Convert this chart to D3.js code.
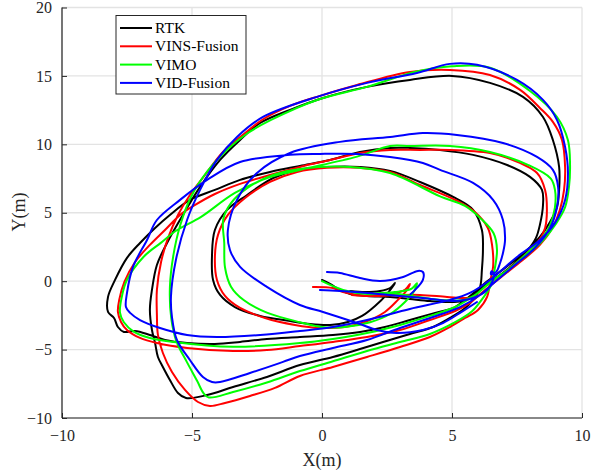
<!DOCTYPE html>
<html><head><meta charset="utf-8">
<script src="https://cdn.jsdelivr.net/npm/d3@7"></script>
<style>body{margin:0;background:#fff}svg{display:block}text{font-family:"Liberation Serif",serif}</style>
</head><body><svg id="c" width="592" height="475"></svg>
<script>
const seriesNames = ["RTK","VINS-Fusion","VIMO","VID-Fusion"];
const seriesColors = ["#000000","#ff0000","#00ff00","#0000ff"];
const xTicks = [-10,-5,0,5,10];
const yTicks = [-10,-5,0,5,10,15,20];

const rtk = [[0.0,0.09],[0.31,-0.2],[0.69,-0.64],[1.08,-0.94],[1.73,-1.08],[2.62,-1.15],[3.38,-1.3],[4.15,-1.45],[4.81,-1.52],[5.38,-1.45],[5.77,-1.08],[6.27,-0.28],[6.85,0.45],[7.42,1.33],[7.92,2.28],[8.23,3.16],[8.38,4.11],[8.5,5.57],[8.46,6.67],[8.0,7.62],[7.12,8.49],[5.81,9.23],[4.54,9.59],[3.38,9.74],[2.62,9.74],[1.46,9.44],[0.31,8.86],[-0.85,8.42],[-2.0,7.98],[-3.15,7.4],[-4.12,6.67],[-5.08,5.94],[-5.85,4.84],[-6.42,3.89],[-7.0,2.79],[-7.5,1.7],[-7.96,0.09],[-8.23,-1.15],[-8.23,-2.25],[-8.0,-2.69],[-7.85,-3.35],[-7.62,-3.71],[-7.19,-3.64],[-6.62,-3.93],[-6.04,-4.3],[-5.19,-4.52],[-4.12,-4.59],[-3.15,-4.44],[-2.12,-4.22],[-0.85,-4.08],[0.42,-3.93],[1.46,-3.71],[2.42,-3.35],[3.38,-2.84],[4.35,-2.32],[5.12,-1.89],[5.69,-1.08],[6.38,0.02],[7.04,0.97],[7.81,2.14],[8.38,3.23],[8.77,4.33],[9.04,5.42],[9.12,6.67],[9.12,8.35],[8.88,10.32],[8.5,12.0],[7.73,13.47],[6.46,14.49],[5.0,15.0],[3.38,14.71],[1.73,14.2],[0.04,13.39],[-1.23,12.52],[-2.38,11.56],[-3.15,10.32],[-3.92,8.86],[-4.69,6.89],[-5.35,4.84],[-5.96,2.79],[-6.35,1.18],[-6.54,-0.64],[-6.62,-2.1],[-6.54,-3.57],[-6.42,-4.52],[-6.31,-5.54],[-6.12,-6.27],[-5.85,-7.22],[-5.54,-8.17],[-5.23,-8.54],[-4.42,-8.32],[-3.42,-7.73],[-2.12,-7.0],[-0.85,-6.13],[0.42,-5.54],[1.46,-4.96],[2.35,-4.44],[3.38,-3.86],[4.27,-3.35],[4.92,-2.69],[5.42,-2.1],[5.81,-1.37],[6.08,-0.42],[6.15,0.82],[6.19,2.28],[6.15,3.74],[5.81,5.21],[5.12,6.08],[3.77,7.25],[2.62,8.06],[1.46,8.35],[0.19,8.35],[-0.96,8.13],[-1.88,7.54],[-2.88,6.3],[-3.65,5.21],[-4.12,3.74],[-4.23,1.92],[-4.19,0.09],[-3.92,-1.01],[-3.35,-1.89],[-2.38,-2.54],[-1.23,-2.91],[-0.46,-3.13],[0.31,-3.2],[1.0,-2.98],[1.54,-2.54],[2.04,-1.81],[2.5,-0.94],[2.81,-0.13],[2.62,-0.5],[2.23,-0.72],[1.65,-0.79],[1.08,-0.72]];

const vinsFusion = [[-0.35,-0.42],[0.42,-0.5],[0.81,-0.79],[1.73,-1.08],[3.0,-1.01],[3.77,-1.01],[4.81,-1.15],[5.58,-1.23],[6.0,-1.08],[6.58,-0.13],[7.15,0.82],[7.81,1.92],[8.31,2.87],[8.58,3.89],[8.65,5.21],[8.58,6.67],[8.27,7.91],[7.12,9.01],[6.46,9.37],[4.92,9.59],[3.77,9.59],[2.62,9.59],[1.46,9.37],[0.31,8.86],[-0.85,8.35],[-2.0,7.76],[-3.15,7.11],[-4.12,6.37],[-4.88,5.57],[-5.46,4.84],[-6.04,3.74],[-6.62,2.65],[-7.19,1.4],[-7.6,-0.06],[-7.8,-1.37],[-7.85,-2.25],[-7.73,-2.98],[-7.5,-3.57],[-7.0,-4.15],[-6.35,-4.52],[-5.19,-4.88],[-3.42,-5.1],[-2.12,-5.03],[-0.85,-4.74],[0.42,-4.44],[1.73,-4.08],[3.0,-3.57],[4.15,-2.84],[5.12,-2.18],[5.69,-1.59],[6.27,-0.64],[6.85,0.24],[7.62,1.4],[8.38,2.65],[8.88,3.96],[9.15,5.21],[9.31,6.67],[9.35,8.35],[9.23,10.32],[8.88,11.64],[8.38,12.66],[7.62,13.98],[6.46,15.07],[4.92,15.44],[3.38,15.29],[1.35,14.34],[-0.08,13.54],[-1.23,12.81],[-2.31,11.78],[-3.04,10.69],[-3.81,9.45],[-4.5,7.76],[-5.08,6.3],[-5.54,4.84],[-5.92,3.16],[-6.19,1.4],[-6.35,-0.64],[-6.35,-2.47],[-6.31,-3.93],[-6.12,-5.25],[-5.77,-6.64],[-5.27,-7.95],[-4.77,-8.83],[-4.31,-9.12],[-3.73,-8.9],[-2.77,-8.39],[-1.81,-7.8],[-0.85,-6.93],[0.42,-6.27],[1.73,-5.54],[3.0,-4.81],[4.15,-4.08],[4.92,-3.35],[5.5,-2.69],[6.0,-2.1],[6.35,-1.15],[6.46,-0.06],[6.58,1.04],[6.54,2.65],[6.38,3.89],[5.88,5.06],[5.12,5.94],[3.77,7.03],[2.62,7.98],[1.46,8.28],[0.19,8.28],[-0.96,7.98],[-2.0,7.25],[-2.96,6.08],[-3.62,4.84],[-4.0,3.38],[-4.12,1.7],[-4.04,0.09],[-3.73,-1.08],[-3.15,-1.96],[-2.19,-2.69],[-1.04,-3.2],[-0.08,-3.42],[0.88,-3.35],[1.65,-2.98],[2.42,-2.25],[2.92,-1.37],[3.27,-0.64],[3.38,-0.2],[3.19,-0.64],[2.62,-0.94],[1.85,-1.08],[1.15,-1.01]];

const vimo = [[0.0,0.0],[0.81,-0.64],[1.73,-0.94],[2.73,-0.9],[3.5,-1.1],[4.2,-1.3],[4.85,-1.4],[5.5,-1.35],[5.9,-1.0],[6.45,-0.1],[7.1,0.75],[7.8,1.9],[8.35,2.9],[8.75,4.0],[8.96,5.4],[8.96,6.67],[8.8,7.5],[7.92,8.5],[6.46,9.44],[4.92,9.88],[3.38,9.88],[2.62,9.88],[1.35,9.1],[-0.85,8.13],[-2.0,7.6],[-3.35,6.45],[-4.65,4.7],[-5.6,3.7],[-6.2,2.8],[-6.85,1.8],[-7.5,0.1],[-7.7,-1.15],[-7.77,-2.3],[-7.62,-3.0],[-7.23,-3.7],[-6.62,-4.15],[-5.7,-4.45],[-3.42,-4.8],[-0.85,-4.52],[0.42,-4.22],[1.73,-3.79],[3.0,-3.2],[4.15,-2.54],[5.12,-1.89],[5.88,-1.01],[6.46,-0.13],[7.04,0.67],[7.81,1.8],[8.5,2.98],[9.0,4.2],[9.35,5.4],[9.5,6.9],[9.54,8.5],[9.46,10.3],[9.04,12.0],[8.0,13.9],[6.46,15.6],[5.0,15.7],[3.6,15.3],[1.73,14.2],[-0.19,13.24],[-1.96,11.78],[-2.88,10.79],[-3.65,9.6],[-4.42,8.0],[-5.04,6.15],[-5.45,4.1],[-5.72,1.85],[-5.85,-0.45],[-5.8,-2.69],[-5.6,-4.4],[-5.2,-5.9],[-4.8,-7.3],[-4.55,-8.2],[-4.35,-8.5],[-3.42,-8.1],[-2.12,-7.4],[-0.85,-6.57],[0.42,-5.85],[1.73,-5.1],[3.0,-4.45],[4.15,-3.86],[5.12,-3.0],[5.77,-2.2],[6.2,-1.2],[6.5,-0.3],[6.65,0.97],[6.73,2.3],[6.6,3.5],[6.15,4.5],[5.5,5.5],[4.54,6.2],[2.62,7.9],[1.08,8.35],[-0.85,8.2],[-1.88,7.76],[-2.88,6.8],[-3.5,5.7],[-3.8,4.5],[-3.76,2.8],[-3.73,1.0],[-3.5,-0.4],[-3.0,-1.4],[-2.12,-2.3],[-0.85,-3.0],[0.0,-3.35],[0.88,-3.35],[1.85,-3.0],[2.62,-2.4],[3.2,-1.5],[3.55,-0.7],[3.65,-0.15],[3.45,-0.55],[2.8,-0.8],[2.0,-0.9]];

const vidFusionStart = [[0.19,0.67],[0.69,0.6],[1.46,0.23],[2.23,0.02],[3.12,0.31],[3.69,0.75],[3.88,0.67],[3.88,0.09],[3.58,-0.64],[3.4,-0.95]];
const vidFusion = [[-0.08,-0.64],[1.27,-0.79],[2.58,-1.01],[3.88,-1.23],[5.04,-1.45],[5.81,-1.23],[6.35,-0.64],[6.58,0.09],[6.62,0.55],[6.52,0.72],[6.5,0.5],[6.7,0.68],[6.85,1.33],[6.96,2.06],[7.04,3.01],[6.96,4.47],[6.58,5.94],[5.81,7.18],[4.54,8.13],[3.88,8.64],[2.62,9.08],[1.35,9.3],[-0.08,9.3],[-1.23,9.23],[-3.15,8.71],[-4.42,7.4],[-5.46,5.94],[-6.35,4.47],[-6.73,3.01],[-7.27,1.04],[-7.5,-0.86],[-7.54,-1.89],[-7.38,-2.32],[-7.0,-2.84],[-6.23,-3.42],[-5.19,-3.93],[-4.04,-4.08],[-2.38,-3.93],[-0.85,-3.64],[0.42,-3.35],[1.73,-2.84],[3.38,-2.03],[4.92,-1.37],[5.69,-0.86],[6.46,0.09],[7.5,1.77],[8.38,3.01],[8.96,4.26],[9.35,5.94],[9.46,7.91],[9.35,9.81],[9.04,11.78],[8.5,13.25],[7.5,14.71],[5.96,15.81],[4.92,15.88],[3.65,15.22],[1.73,14.49],[-0.19,13.47],[-2.27,12.0],[-3.27,10.54],[-4.04,8.86],[-4.69,6.67],[-5.19,4.47],[-5.62,1.55],[-5.81,-1.15],[-5.77,-2.62],[-5.58,-4.3],[-5.08,-5.76],[-4.58,-7.0],[-4.23,-7.37],[-3.92,-7.37],[-2.77,-6.71],[-1.5,-5.9],[-0.85,-5.47],[0.42,-4.88],[1.73,-4.3],[3.0,-3.42],[4.27,-2.62],[5.31,-1.89],[6.08,-1.01],[6.65,-0.06],[7.42,1.18],[8.19,2.43],[8.77,3.89],[9.04,5.42],[9.08,6.89],[8.88,8.13],[8.27,9.08],[6.96,10.1],[5.19,10.69],[3.88,10.83],[2.62,10.54],[0.69,10.18],[-1.23,9.37],[-2.5,7.91],[-3.27,5.94],[-3.62,3.74],[-3.54,2.28],[-3.15,1.04],[-2.12,-0.42],[-0.85,-1.74],[0.04,-2.25],[1.35,-3.06],[2.12,-3.57],[2.88,-3.79],[3.88,-3.57],[4.65,-3.06],[5.31,-2.32],[5.96,-1.52]];

const seriesSegments = [[rtk],[vinsFusion],[vimo],[vidFusionStart, vidFusion]];

const m = {l:62, r:582, t:7.5, b:418};
const x = d3.scaleLinear().domain([-10,10]).range([m.l, m.r]);
const y = d3.scaleLinear().domain([-10,20]).range([m.b, m.t]);
const svg = d3.select("#c");
const font = "Liberation Serif, serif";

const g = svg.append("g");
g.selectAll(".gx").data(xTicks).enter().append("line")
  .attr("x1",d=>x(d)).attr("x2",d=>x(d)).attr("y1",m.t).attr("y2",m.b)
  .attr("stroke","#e3e3e3").attr("stroke-width",1.3);
g.selectAll(".gy").data(yTicks).enter().append("line")
  .attr("y1",d=>y(d)).attr("y2",d=>y(d)).attr("x1",m.l).attr("x2",m.r)
  .attr("stroke","#e3e3e3").attr("stroke-width",1.3);

const line = d3.line().x(d=>x(d[0])).y(d=>y(d[1])).curve(d3.curveCatmullRom.alpha(0.5));
const plot = svg.append("g");
seriesSegments.forEach((segs,i)=>{
  segs.forEach(s=>{
    plot.append("path").datum(s).attr("d",line).attr("fill","none")
      .attr("stroke",seriesColors[i]).attr("stroke-width",2).attr("stroke-linejoin","round").attr("stroke-linecap","round");
  });
});

const xAxis = d3.axisBottom(x).tickValues(xTicks).tickSize(-5).tickPadding(12);
const yAxis = d3.axisLeft(y).tickValues(yTicks).tickSize(-5).tickPadding(10);
const ax = svg.append("g").attr("transform",`translate(0,${m.b})`).call(xAxis);
const ay = svg.append("g").attr("transform",`translate(${m.l},0)`).call(yAxis);
[ax,ay].forEach(a=>{
  a.attr("font-family",font);
  a.select(".domain").attr("stroke","#262626").attr("stroke-width",1.2);
  a.selectAll(".tick line").attr("stroke","#262626");
  a.selectAll("text").style("font-family",font).attr("font-size",16).attr("fill","#262626");
});
ay.select(".domain").attr("d",`M0,${m.b}V${m.t}`);
ax.select(".domain").attr("d",`M${m.l},0H${m.r}`);

svg.append("text").attr("x",322).attr("y",466).attr("text-anchor","middle")
  .style("font-family",font).attr("font-size",18).attr("fill","#262626").text("X(m)");
svg.append("text").attr("transform","translate(25,212) rotate(-90)").attr("text-anchor","middle")
  .style("font-family",font).attr("font-size",18).attr("fill","#262626").text("Y(m)");

const lg = svg.append("g");
lg.append("rect").attr("x",116).attr("y",15.5).attr("width",130).attr("height",78.5)
  .attr("fill","#fff").attr("stroke","#262626").attr("stroke-width",1);
seriesNames.forEach((n,i)=>{
  const cy = 28 + i*18.3;
  lg.append("line").attr("x1",120).attr("x2",152).attr("y1",cy).attr("y2",cy)
    .attr("stroke",seriesColors[i]).attr("stroke-width",2);
  lg.append("text").attr("x",155).attr("y",cy+5).style("font-family",font)
    .attr("font-size",15.5).attr("fill","#000").text(n);
});
</script></body></html>
